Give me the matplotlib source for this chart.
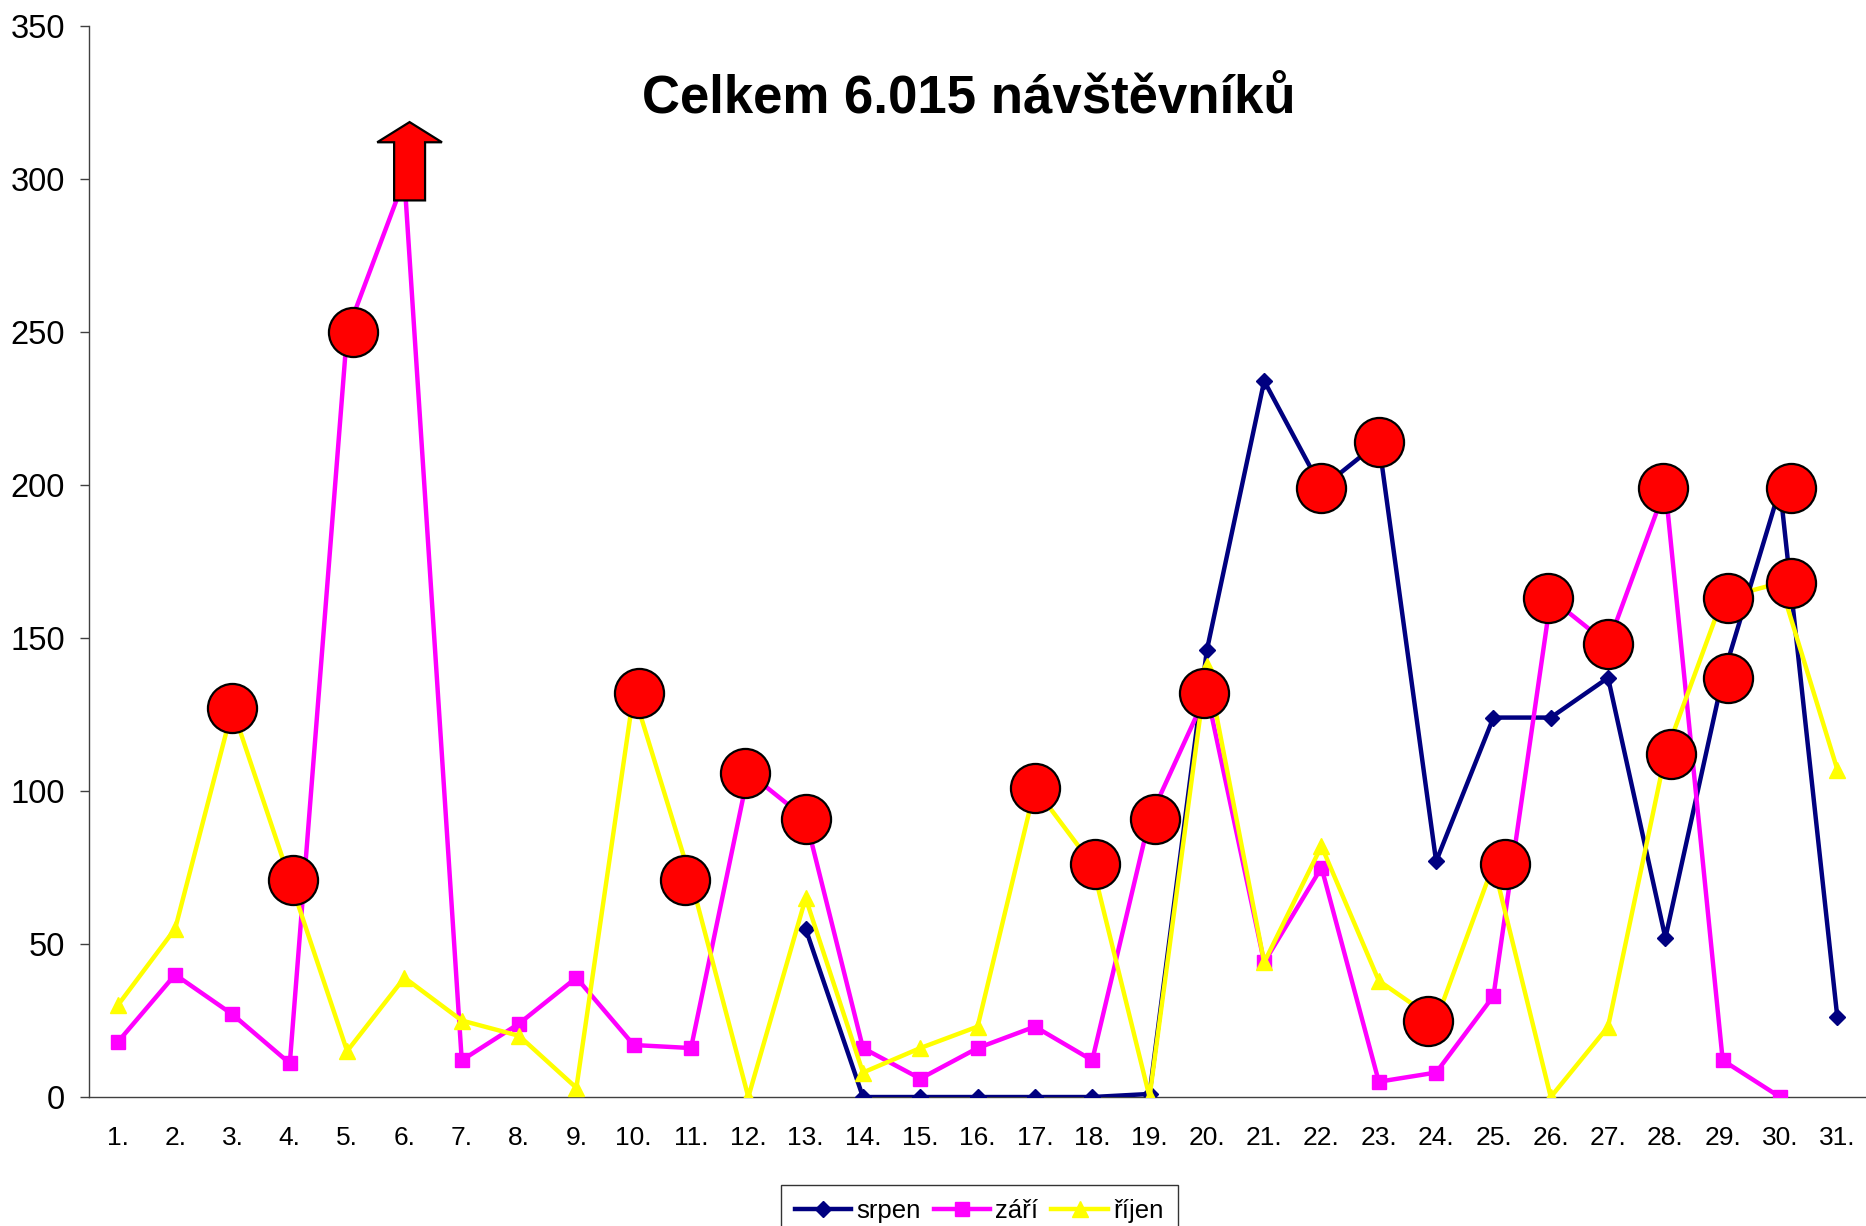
import numpy as np
import matplotlib
matplotlib.use('Agg')
import matplotlib.pyplot as plt
from matplotlib.patches import FancyArrow

plt.rcParams['font.family'] = ['Liberation Sans', 'DejaVu Sans']

# days of the month
days = list(range(1, 32))
day_labels = [f'{d}.' for d in days]

nan = np.nan
# visitors per day
srpen = [nan] * 12 + [55, 0, 0, 0, 0, 0, 1, 146, 234, 199, 214, 77, 124, 124, 137, 52, 137, 199, 26]
zari = [18, 40, 27, 11, 250, 300, 12, 24, 39, 17, 16, 106, 91, 16, 6, 16, 23, 12, 91, 132,
        44, 75, 5, 8, 33, 163, 148, 199, 12, 0, nan]
rijen = [30, 55, 127, 71, 15, 39, 25, 20, 3, 132, 71, 0, 65, 8, 16, 23, 101, 76, 0, 141,
         44, 82, 38, 25, 76, 0, 23, 112, 163, 168, 107]

# highlighted points (red circles), placed by hand in the original so not exactly on the day
circle_x = [3.0, 4.05, 5.1, 10.1, 10.9, 11.95, 13.0, 17.0, 18.05, 19.1, 19.95, 22.0, 23.0,
            23.85, 25.2, 25.95, 27.0, 27.95, 28.1, 29.1, 29.1, 30.2, 30.2]
circle_vals = [127, 71, 250, 132, 71, 106, 91, 101, 76, 91, 132, 199, 214, 25, 76, 163, 148, 199, 112,
               163, 137, 199, 168]

# value off the chart at day 6 -> arrow
arrow_day = 6

fig = plt.figure(figsize=(18.66, 12.26), dpi=100)
ax = fig.add_axes([0.0478, 0.1052, 0.9522, 0.8736])

lw = 3.2
ax.plot(days, srpen, color='#000080', lw=lw, marker='D', ms=8, label='srpen', zorder=3)
ax.plot(days, zari, color='#FF00FF', lw=lw, marker='s', ms=10, label='září', zorder=4)
ax.plot(days, rijen, color='#FFFF00', lw=lw, marker='^', ms=12, label='říjen', zorder=5)

ax.scatter(circle_x, circle_vals, s=1250, color='#FF0000', edgecolor='black', linewidth=1.6, zorder=6)

arrow = FancyArrow(arrow_day + 0.09, 293, 0, 25.6, width=0.54, head_width=1.13, head_length=6.6,
                   length_includes_head=True, fc='#FF0000', ec='black', lw=1.6, zorder=7)
ax.add_patch(arrow)

ax.set_xlim(0.5, 31.5)
ax.set_ylim(0, 350)
ax.set_yticks(np.arange(0, 351, 50))
ax.set_xticks(days)
ax.set_xticklabels(day_labels)

ax.spines['top'].set_visible(False)
ax.spines['right'].set_visible(False)
for s in ['left', 'bottom']:
    ax.spines[s].set_color('#404040')
    ax.spines[s].set_linewidth(1.0)

ax.tick_params(axis='y', labelsize=23.5, length=6.5, width=1, color='#404040', pad=11)
ax.tick_params(axis='x', labelsize=19, length=0, pad=21)

fig.text(0.519, 0.908, 'Celkem 6.015 návštěvníků', ha='center', va='baseline',
         fontsize=38, fontweight='bold')

# legend sits partly below the bottom edge, as in the original
leg = ax.legend(loc='upper center', bbox_to_anchor=(0.5247, 0.0334), bbox_transform=fig.transFigure,
                ncol=3, fontsize=18.5, frameon=True, fancybox=False, edgecolor='black',
                handlelength=2.2, columnspacing=0.5, handletextpad=0.2, borderpad=0.55,
                borderaxespad=0)
leg.get_frame().set_linewidth(1.0)

fig.savefig('out.png', dpi=100)
